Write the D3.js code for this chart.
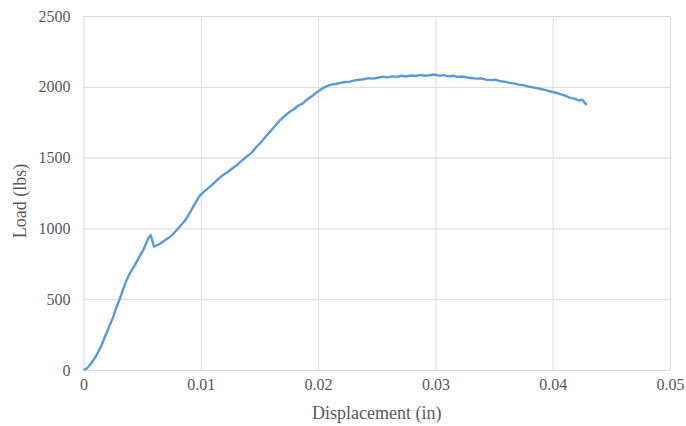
<!DOCTYPE html>
<html>
<head>
<meta charset="utf-8">
<script src="https://cdn.jsdelivr.net/npm/d3@7"></script>
<style>
  body { margin: 0; background: #fff; }
  .grid line { stroke: #d9d9d9; stroke-width: 1; }
  .grid path { display: none; }
  .axis path, .axis line { display: none; }
</style>
</head>
<body>
<svg id="chart" width="686" height="426"></svg>
<script>
const serif = '"Liberation Serif", "Times New Roman", "DejaVu Serif", serif';

// displacement (in) and load (lbs)
const displacement = [
  0, 0.0003, 0.00055, 0.0008, 0.00112, 0.0015, 0.00183, 0.0022, 0.00254, 0.0028,
  0.00311, 0.0034, 0.00368, 0.004, 0.00439, 0.0047, 0.0051, 0.00552,
  0.00573, 0.00601, 0.0065, 0.0069, 0.0074, 0.0078, 0.0082, 0.0087, 0.0091, 0.0095,
  0.0099, 0.0103, 0.0107, 0.0111, 0.0115, 0.0119, 0.0123, 0.0127, 0.0131, 0.0135,
  0.0139, 0.0143, 0.0147, 0.0151, 0.0155, 0.0159, 0.0163, 0.0167, 0.0171, 0.0175,
  0.0179, 0.0183, 0.0187, 0.0191, 0.0195, 0.0199, 0.0203, 0.0207, 0.0211, 0.0215,
  0.0219, 0.0223, 0.0227, 0.0231, 0.0235, 0.0239, 0.0243, 0.0247, 0.0251, 0.0255,
  0.0259, 0.0263, 0.0267, 0.0271, 0.0275, 0.0279, 0.0283, 0.0287, 0.0291, 0.0295,
  0.0299, 0.0303, 0.0307, 0.0311, 0.0315, 0.0319, 0.0323, 0.0327, 0.0331, 0.0335,
  0.0339, 0.0343, 0.0347, 0.0351, 0.0355, 0.0359, 0.0363, 0.0367, 0.0371, 0.0375,
  0.0379, 0.0383, 0.0387, 0.0391, 0.0395, 0.0399, 0.0403, 0.0407, 0.0411, 0.0415,
  0.0419, 0.0423, 0.0425, 0.0427, 0.0429
];
const load = [
  0, 12, 35, 65, 106, 168, 235, 308, 376, 440,
  506, 575, 636, 690, 742, 790, 847, 930,
  953, 871, 890, 915, 941, 975, 1012, 1060, 1115, 1175,
  1230, 1262, 1290, 1318, 1350, 1377, 1398, 1425, 1448, 1478,
  1507, 1530, 1572, 1605, 1645, 1683, 1720, 1760, 1790, 1818,
  1840, 1866, 1883, 1912, 1935, 1962, 1985, 2003, 2015, 2020,
  2028, 2034, 2036, 2045, 2050, 2053, 2061, 2058, 2064, 2072,
  2066, 2074, 2070, 2078, 2073, 2080, 2076, 2084, 2078, 2082,
  2087, 2079, 2082, 2074, 2078, 2070, 2073, 2066, 2062, 2058,
  2060, 2051, 2047, 2050, 2040, 2036, 2028, 2024, 2015, 2012,
  2002, 1996, 1990, 1983, 1975, 1965, 1958, 1946, 1937, 1922,
  1915, 1902, 1910, 1890, 1872
];
const xTicks = [0, 0.01, 0.02, 0.03, 0.04, 0.05];
const yTicks = [0, 500, 1000, 1500, 2000, 2500];

const svg = d3.select("#chart");
const margin = { top: 16, right: 16, bottom: 56, left: 83.5 };
const innerWidth = +svg.attr("width") - margin.left - margin.right;
const innerHeight = +svg.attr("height") - margin.top - margin.bottom;

const xScale = d3.scaleLinear().domain([0, 0.05]).range([0, innerWidth]);
const yScale = d3.scaleLinear().domain([0, 2500]).range([innerHeight, 0]);

const g = svg.append("g").attr("transform", `translate(${margin.left},${margin.top})`);

// gridlines
g.append("g")
    .attr("class", "grid")
    .attr("transform", `translate(0,${innerHeight})`)
    .call(d3.axisBottom(xScale).tickValues(xTicks).tickSize(-innerHeight).tickFormat(""));

g.append("g")
    .attr("class", "grid")
    .call(d3.axisLeft(yScale).tickValues(yTicks).tickSize(-innerWidth).tickFormat(""));

// axes (labels only)
g.append("g")
    .attr("class", "axis")
    .attr("transform", `translate(0,${innerHeight})`)
    .call(d3.axisBottom(xScale).tickValues(xTicks).tickSize(0).tickPadding(9)
        .tickFormat(d => d === 0 ? "0" : d3.format(".2f")(d)));

g.append("g")
    .attr("class", "axis")
    .call(d3.axisLeft(yScale).tickValues(yTicks).tickSize(0).tickPadding(13).tickFormat(d3.format("d")));

g.selectAll(".axis")
    .attr("font-family", serif)
    .attr("font-size", 16);

g.selectAll(".axis text")
    .style("font-family", serif)
    .style("font-size", "16px")
    .style("fill", "#595959");

const data = displacement.map((d, i) => ({ d, l: load[i] }));

const lineGen = d3.line()
    .x(p => xScale(p.d))
    .y(p => yScale(p.l));

g.append("path")
    .datum(data)
    .attr("fill", "none")
    .attr("stroke", "#5b9bd5")
    .attr("stroke-width", 2.4)
    .attr("stroke-linejoin", "round")
    .attr("d", lineGen);

svg.append("text")
    .attr("x", margin.left + innerWidth / 2)
    .attr("y", 419)
    .attr("text-anchor", "middle")
    .style("font-family", serif)
    .style("font-size", "18px")
    .style("fill", "#595959")
    .text("Displacement (in)");

svg.append("text")
    .attr("transform", `translate(26,${margin.top + innerHeight / 2 + 8}) rotate(-90)`)
    .attr("text-anchor", "middle")
    .style("font-family", serif)
    .style("font-size", "18px")
    .style("fill", "#595959")
    .text("Load (lbs)");
</script>
</body>
</html>
